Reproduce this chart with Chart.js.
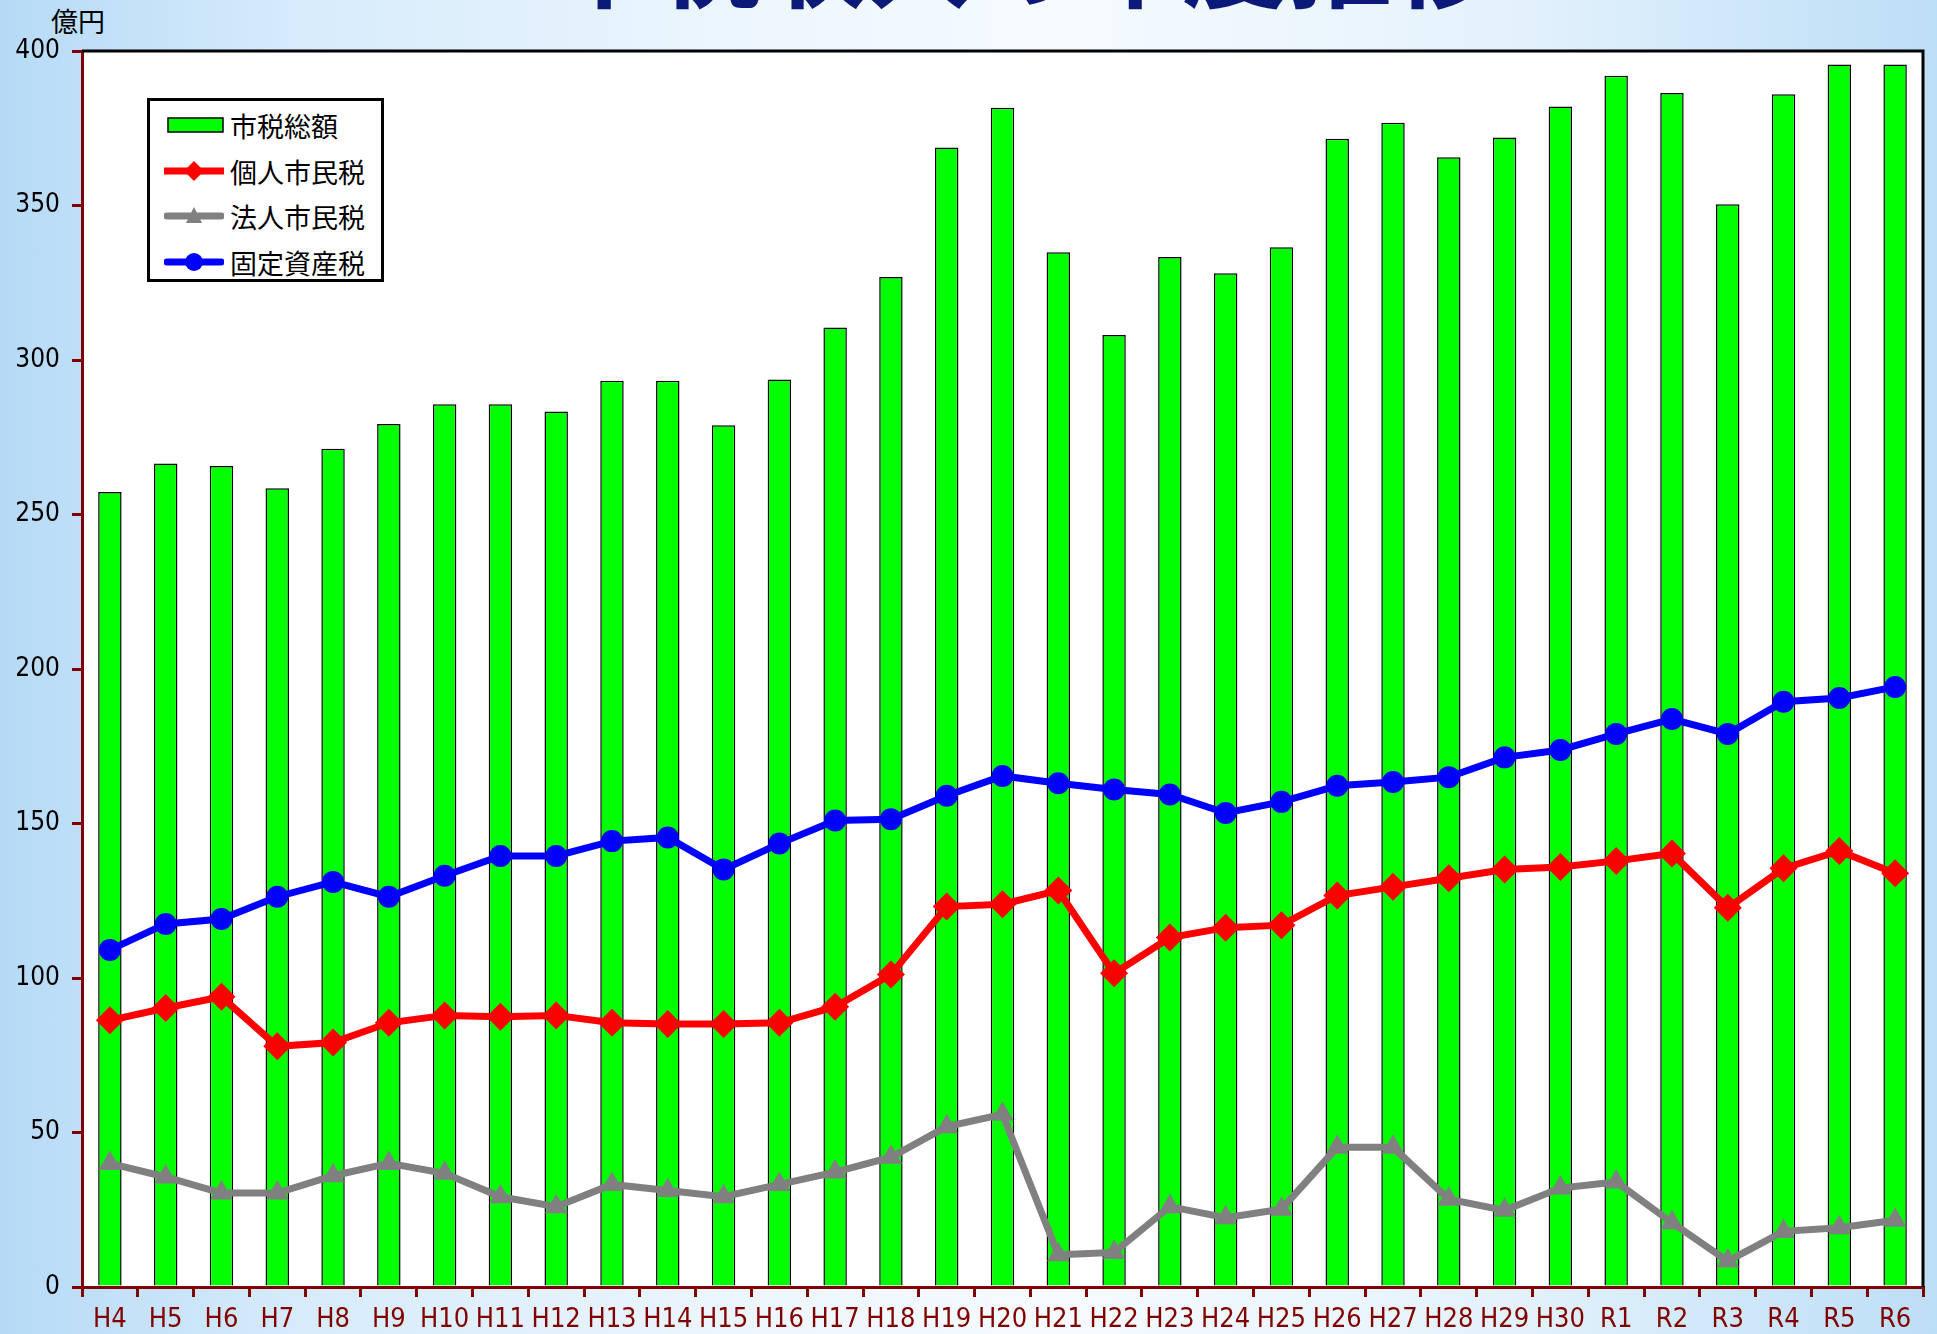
<!DOCTYPE html>
<html lang="ja">
<head>
<meta charset="utf-8">
<script src="https://cdn.jsdelivr.net/npm/chart.js@4/dist/chart.umd.min.js"></script>
<style>
  html, body { margin: 0; padding: 0; width: 1937px; height: 1334px; overflow: hidden; }
  body {
    background: linear-gradient(to right, #b6daf6 0%, #d6ebfb 15%, #eef7fe 40%, #f6fbff 55%, #e4f2fc 78%, #bddef7 100%);
    position: relative;
    font-family: "Noto Sans CJK JP", sans-serif;
  }
  #title {
    position: absolute; left: 552px; top: -99px; margin: 0;
    font: bold 105px/1 "Noto Sans CJK JP", sans-serif; color: #0b1a78; white-space: nowrap;
  }
  #unit {
    position: absolute; left: 51px; top: 7px;
    font: 27px/1 "Noto Sans CJK JP", sans-serif; color: #000;
  }
  #chart { position: absolute; left: 0; top: 0; }
  #legend {
    position: absolute; left: 147px; top: 98px; width: 237px; height: 184px;
    border: 3px solid #000; background: #fff; box-sizing: border-box;
  }
  .item { position: absolute; left: 14px; height: 30px; display: flex; align-items: center; }
  .item span { font: 27px/1 "Noto Sans CJK JP", sans-serif; color: #000; margin-left: 6px; }
</style>
</head>
<body>
<div id="title">市税収入の年度推移</div>
<div id="unit">億円</div>
<canvas id="chart" width="1937" height="1334"></canvas>
<div id="legend">
  <div class="item" style="top:9px"><svg width="60" height="30"><rect x="4" y="8" width="55" height="14" fill="#00ff00" stroke="#000" stroke-width="1.5"/></svg><span>市税総額</span></div>
  <div class="item" style="top:55px"><svg width="60" height="30"><line x1="0" y1="15" x2="60" y2="15" stroke="#ff0000" stroke-width="7"/><polygon points="30,5 40,15 30,25 20,15" fill="#ff0000"/></svg><span>個人市民税</span></div>
  <div class="item" style="top:100px"><svg width="60" height="30"><line x1="3" y1="15" x2="57" y2="15" stroke="#808080" stroke-width="7" stroke-linecap="round"/><polygon points="30,6 38,22 22,22" fill="#808080"/></svg><span>法人市民税</span></div>
  <div class="item" style="top:146px"><svg width="60" height="30"><line x1="3" y1="15" x2="57" y2="15" stroke="#0000ff" stroke-width="7" stroke-linecap="round"/><circle cx="30" cy="15" r="9" fill="#0000ff"/></svg><span>固定資産税</span></div>
</div>
<script>
const categories = ["H4","H5","H6","H7","H8","H9","H10","H11","H12","H13","H14","H15","H16","H17","H18","H19","H20","H21","H22","H23","H24","H25","H26","H27","H28","H29","H30","R1","R2","R3","R4","R5","R6"];
const totalTax = [257.3,266.5,265.7,258.5,271.3,279.3,285.7,285.7,283.3,293.3,293.3,278.9,293.7,310.5,326.9,368.8,381.6,334.9,308.1,333.3,328.1,336.5,371.6,376.8,365.6,372.0,382.0,392.0,386.4,350.4,386.0,395.6,395.6];
const individualTax = [86.3,90.3,93.9,77.9,79.1,85.5,87.9,87.5,87.9,85.5,85.1,85.1,85.5,90.7,101.1,123.1,123.9,128.3,101.5,113.1,116.3,117.1,126.7,129.5,132.3,135.1,135.9,137.9,140.3,122.7,135.5,141.1,133.9];
const corporateTax = [40.0,35.6,30.4,30.4,36.0,40.0,36.8,29.2,26.0,33.2,31.2,29.2,33.2,37.2,42.0,51.9,55.9,10.4,11.2,26.0,22.4,25.2,45.2,45.2,28.4,24.8,32.0,34.0,20.8,8.4,18.0,19.2,21.6];
const propertyTax = [109.1,117.5,119.1,126.3,131.1,126.3,133.1,139.5,139.5,144.3,145.5,135.1,143.5,151.0,151.4,159.0,165.4,163.0,161.0,159.4,153.4,157.0,162.2,163.4,165.0,171.4,173.8,179.0,183.8,179.0,189.4,190.6,194.2];
const yTicks = [0,50,100,150,200,250,300,350,400];
const seriesNames = ["市税総額","個人市民税","法人市民税","固定資産税"];

const plotFrame = {
  id: 'plotFrame',
  beforeDraw(chart) {
    const a = chart.chartArea, ctx = chart.ctx;
    ctx.save(); ctx.fillStyle = '#fff';
    ctx.fillRect(a.left, a.top, a.right - a.left, a.bottom - a.top);
    ctx.restore();
  },
  afterDraw(chart) {
    const a = chart.chartArea, ctx = chart.ctx;
    ctx.save(); ctx.strokeStyle = '#000'; ctx.lineWidth = 3;
    ctx.beginPath(); ctx.moveTo(a.left, a.top); ctx.lineTo(a.right, a.top); ctx.lineTo(a.right, a.bottom); ctx.stroke();
    ctx.restore();
  }
};

const fam = "'DejaVu Sans Condensed','Liberation Sans Narrow',sans-serif";

new Chart(document.getElementById('chart'), {
  type: 'bar',
  data: {
    labels: categories,
    datasets: [
      { type: 'line', label: seriesNames[1], data: individualTax, borderColor: '#ff0000', backgroundColor: '#ff0000', borderWidth: 7, pointStyle: 'rectRot', pointRadius: 14, pointHoverRadius: 14, pointBorderWidth: 0, order: 1 },
      { type: 'line', label: seriesNames[2], data: corporateTax, borderColor: '#808080', backgroundColor: '#808080', borderWidth: 7, pointStyle: 'triangle', pointRadius: 13, pointHoverRadius: 13, pointBorderWidth: 0, order: 1 },
      { type: 'line', label: seriesNames[3], data: propertyTax, borderColor: '#0000ff', backgroundColor: '#0000ff', borderWidth: 7, pointStyle: 'circle', pointRadius: 11, pointHoverRadius: 11, pointBorderWidth: 0, order: 1 },
      { type: 'bar', label: seriesNames[0], data: totalTax, backgroundColor: '#00ff00', borderColor: '#000', borderWidth: 1.5, barPercentage: 0.42, categoryPercentage: 1, order: 2 }
    ]
  },
  options: {
    responsive: false, animation: false,
    layout: { padding: { top: 51, right: 9, left: 0, bottom: 0 } },
    plugins: { legend: { display: false }, title: { display: false }, tooltip: { enabled: false } },
    scales: {
      x: {
        offset: true,
        grid: { display: true, drawOnChartArea: false, offset: true, color: '#800000', tickColor: '#800000', tickLength: 10, lineWidth: 3 },
        border: { color: '#800000', width: 3 },
        ticks: { color: '#800000', font: { family: fam, size: 27 }, padding: 7, maxRotation: 0, autoSkip: false },
        afterFit(s) { s.height = 47; }
      },
      y: {
        min: 0, max: 400,
        afterBuildTicks(s) { s.ticks = yTicks.map(v => ({ value: v })); },
        grid: { display: true, drawOnChartArea: false, color: '#800000', tickColor: '#800000', tickLength: 10, lineWidth: 3 },
        border: { color: '#800000', width: 3 },
        ticks: { color: '#000', font: { family: fam, size: 26 }, padding: 12 },
        afterFit(s) { s.width = 82; }
      }
    }
  },
  plugins: [plotFrame]
});
</script>
</body>
</html>
